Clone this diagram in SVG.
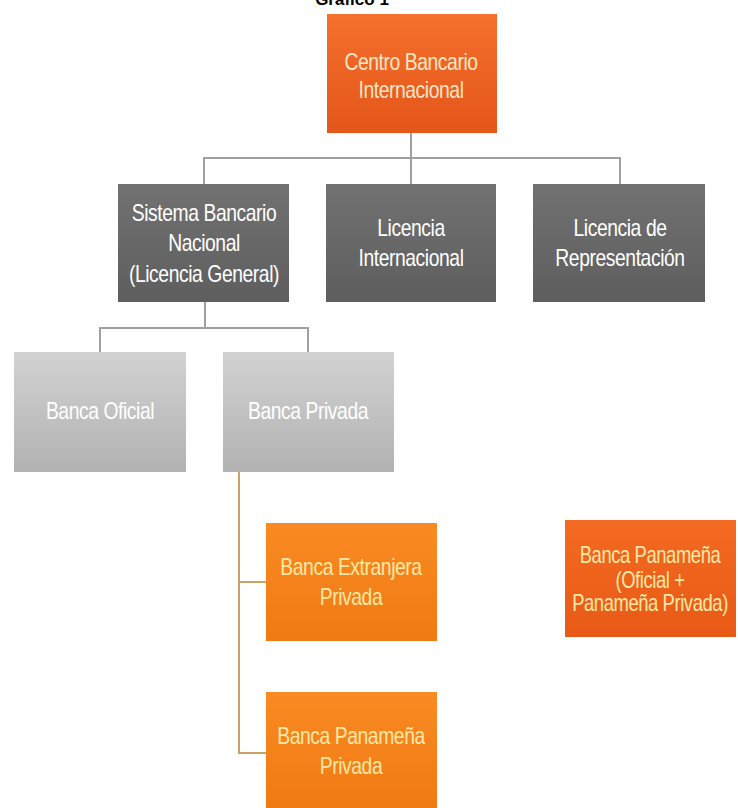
<svg xmlns="http://www.w3.org/2000/svg" width="738" height="808" viewBox="0 0 738 808">
<defs>
<linearGradient id="gRed" x1="0" y1="0" x2="0" y2="1"><stop offset="0" stop-color="#f4702c"/><stop offset="1" stop-color="#e4561a"/></linearGradient>
<linearGradient id="gDark" x1="0" y1="0" x2="0" y2="1"><stop offset="0" stop-color="#717171"/><stop offset="1" stop-color="#5e5e5e"/></linearGradient>
<linearGradient id="gLight" x1="0" y1="0" x2="0" y2="1"><stop offset="0" stop-color="#d2d2d2"/><stop offset="1" stop-color="#b2b2b2"/></linearGradient>
<linearGradient id="gOrange" x1="0" y1="0" x2="0" y2="1"><stop offset="0" stop-color="#fa8a22"/><stop offset="1" stop-color="#f07a14"/></linearGradient>
<linearGradient id="gPan" x1="0" y1="0" x2="0" y2="1"><stop offset="0" stop-color="#f46a22"/><stop offset="1" stop-color="#e85a16"/></linearGradient>
</defs>
<style>
text{font-family:"Liberation Sans",Arial,sans-serif;font-size:23px;text-anchor:middle;letter-spacing:-0.5px}
.title{font-weight:bold;font-size:17px;fill:#000;letter-spacing:0}
.tl{fill:#fde6c6}
.tw{fill:#ffffff}
.ty{fill:#ffe8a6}
.conn{fill:none;stroke:#a0a0a0;stroke-width:2}
.connO{fill:none;stroke:#c9a266;stroke-width:2}
</style>
<text class="title" x="352" y="5">Gráfico 1</text>
<g id="connectors">
<path class="conn" d="M411 133 V158 M204 184 V158 H620 V184 M411 158 V184"/>
<path class="conn" d="M205 302 V328 M100 352 V328 H308 V352"/>
<path class="connO" d="M239 472 V753 H266 M239 582 H266"/>
</g>
<g id="n-centro"><rect x="327" y="14" width="170" height="119" fill="url(#gRed)"/><text class="tl" transform="translate(411 70) scale(0.84 1)">Centro Bancario</text><text class="tl" transform="translate(411 98) scale(0.84 1)">Internacional</text></g>
<g id="n-sistema"><rect x="118" y="184" width="171" height="118" fill="url(#gDark)"/><text class="tw" transform="translate(204 221) scale(0.84 1)">Sistema Bancario</text><text class="tw" transform="translate(204 251) scale(0.84 1)">Nacional</text><text class="tw" transform="translate(204 282) scale(0.84 1)">(Licencia General)</text></g>
<g id="n-licint"><rect x="326" y="184" width="170" height="118" fill="url(#gDark)"/><text class="tw" transform="translate(411 236) scale(0.84 1)">Licencia</text><text class="tw" transform="translate(411 266) scale(0.84 1)">Internacional</text></g>
<g id="n-licrep"><rect x="533" y="184" width="172" height="118" fill="url(#gDark)"/><text class="tw" transform="translate(620 236) scale(0.84 1)">Licencia de</text><text class="tw" transform="translate(620 266) scale(0.84 1)">Representación</text></g>
<g id="n-oficial"><rect x="14" y="352" width="172" height="120" fill="url(#gLight)"/><text class="tw" transform="translate(100 419) scale(0.84 1)">Banca Oficial</text></g>
<g id="n-privada"><rect x="223" y="352" width="171" height="120" fill="url(#gLight)"/><text class="tw" transform="translate(308 419) scale(0.84 1)">Banca Privada</text></g>
<g id="n-extranjera"><rect x="266" y="523" width="171" height="118" fill="url(#gOrange)"/><text class="ty" transform="translate(351 575) scale(0.84 1)">Banca Extranjera</text><text class="ty" transform="translate(351 605) scale(0.84 1)">Privada</text></g>
<g id="n-panpriv"><rect x="266" y="692" width="171" height="116" fill="url(#gOrange)"/><text class="ty" transform="translate(351 744) scale(0.84 1)">Banca Panameña</text><text class="ty" transform="translate(351 774) scale(0.84 1)">Privada</text></g>
<g id="n-panamena"><rect x="565" y="520" width="171" height="117" fill="url(#gPan)"/><text class="ty" transform="translate(650 563) scale(0.8 1)">Banca Panameña</text><text class="ty" transform="translate(650 588) scale(0.8 1)">(Oficial +</text><text class="ty" transform="translate(650 611) scale(0.8 1)">Panameña Privada)</text></g>
</svg>
